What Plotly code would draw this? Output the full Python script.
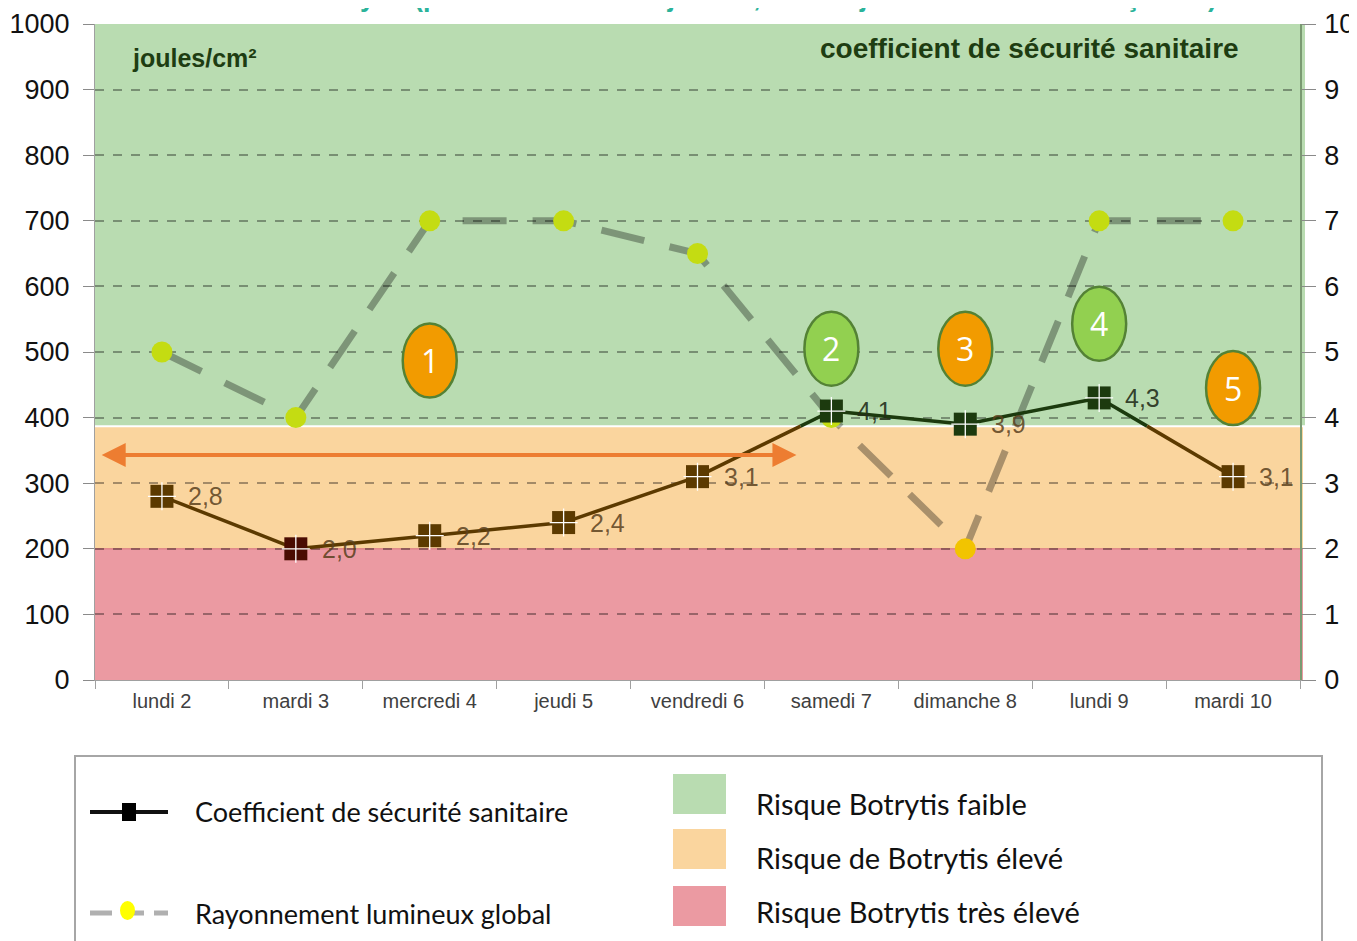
import plotly.graph_objects as go

days = ["lundi 2", "mardi 3", "mercredi 4", "jeudi 5", "vendredi 6",
        "samedi 7", "dimanche 8", "lundi 9", "mardi 10"]
rayonnement = [500, 400, 700, 700, 650, 400, 200, 700, 700]
coefficient = [2.8, 2.0, 2.2, 2.4, 3.1, 4.1, 3.9, 4.3, 3.1]
coef_labels = ["2,8", "2,0", "2,2", "2,4", "3,1", "4,1", "3,9", "4,3", "3,1"]
bubble_nums = ["1", "2", "3", "4", "5"]
bubble_days = [2, 5, 6, 7, 8]
bubble_vals = [487, 505, 505, 543, 445]
bubble_cols = ["#f29b00", "#92d050", "#f29b00", "#92d050", "#f29b00"]
band_low, band_mid, band_top = 200, 387, 1000
legend_lines = ["Coefficient de sécurité sanitaire", "Rayonnement lumineux global"]
legend_risks = ["Risque Botrytis faible", "Risque de Botrytis élevé", "Risque Botrytis très élevé"]
risk_cols = ["#b9dcb1", "#fad59e", "#eb9aa2"]

W, H = 1357, 941
OFF = 8  # page body margin
L, R, T, B = 95, 1300, 24, 680


def px(x):
    return (x - L) / (R - L)


def py(y):
    return (B - y) / (B - T)


THR = band_mid / 100.0
GREEN_DARK = "#1c3a0e"
BROWN = "#5c3a00"
MAROON = "#4a0c02"


def seg_color(v):
    return GREEN_DARK if v >= THR else BROWN


fig = go.Figure()

# background bands
fig.add_shape(type="rect", xref="paper", yref="y", x0=0, x1=px(1305), y0=band_mid, y1=band_top,
              fillcolor=risk_cols[0], line_width=0, layer="below")
fig.add_shape(type="rect", xref="paper", yref="y", x0=0, x1=px(1303), y0=band_low, y1=band_mid,
              fillcolor=risk_cols[1], line_width=0, layer="below")
fig.add_shape(type="rect", xref="paper", yref="y", x0=0, x1=px(1303), y0=0, y1=band_low,
              fillcolor=risk_cols[2], line_width=0, layer="below")
fig.add_shape(type="line", xref="paper", yref="y", x0=0, x1=px(1305), y0=band_mid, y1=band_mid,
              line=dict(color="white", width=2), layer="below")
fig.add_shape(type="line", xref="paper", yref="y", x0=0, x1=px(1303), y0=band_low, y1=band_low,
              line=dict(color="#d87078", width=1), layer="below")

# coefficient line split at the green/orange threshold
xs = list(range(len(days)))
for i in range(len(coefficient) - 1):
    a, b = coefficient[i], coefficient[i + 1]
    if (a - THR) * (b - THR) < 0:
        t = (THR - a) / (b - a)
        xm = xs[i] + t
        fig.add_trace(go.Scatter(x=[xs[i], xm], y=[a, THR], mode="lines", yaxis="y2",
                                 line=dict(color=seg_color(a), width=3.5), showlegend=False, hoverinfo="skip"))
        fig.add_trace(go.Scatter(x=[xm, xs[i + 1]], y=[THR, b], mode="lines", yaxis="y2",
                                 line=dict(color=seg_color(b), width=3.5), showlegend=False, hoverinfo="skip"))
    else:
        fig.add_trace(go.Scatter(x=[xs[i], xs[i + 1]], y=[a, b], mode="lines", yaxis="y2",
                                 line=dict(color=seg_color(a), width=3.5),
                                 showlegend=False, hoverinfo="skip"))

mcols = [MAROON if v <= 2.0 else seg_color(v) for v in coefficient]
tcols = ["rgba(35,45,25,0.9)" if v >= 4.0 else "rgba(90,65,30,0.85)" for v in coefficient]
fig.add_trace(go.Scatter(x=xs, y=coefficient, mode="markers", yaxis="y2",
                         marker=dict(symbol="square", size=23, color=mcols, line=dict(width=0)),
                         showlegend=False))
fig.add_trace(go.Scatter(x=xs, y=coefficient, mode="markers", yaxis="y2",
                         marker=dict(symbol="cross-thin", size=20, line=dict(color="white", width=1.3)),
                         showlegend=False))
for xv, yv, lab, c in zip(xs, coefficient, coef_labels, tcols):
    fig.add_annotation(x=xv, y=yv, xref="x", yref="y2", text=lab, showarrow=False,
                       xanchor="left", yanchor="middle", xshift=24, yshift=0,
                       font=dict(family="Liberation Sans", size=25, color=c))

# rayonnement
fig.add_trace(go.Scatter(x=xs, y=rayonnement, mode="lines", yaxis="y",
                         line=dict(color="rgba(0,0,0,0.32)", width=7, dash="44px,26px"),
                         showlegend=False))
rcols = ["#f2c400" if v <= band_low else "#c4dc12" for v in rayonnement]
fig.add_trace(go.Scatter(x=xs, y=rayonnement, mode="markers", yaxis="y",
                         marker=dict(symbol="circle", size=21, color=rcols, line=dict(width=0)),
                         showlegend=False))

# numbered ellipses
for n, d, v, c in zip(bubble_nums, bubble_days, bubble_vals, bubble_cols):
    fig.add_shape(type="circle", xref="x", yref="y", xsizemode="pixel", ysizemode="pixel",
                  xanchor=d, yanchor=v, x0=-27, x1=27, y0=-37, y1=37,
                  fillcolor=c, line=dict(color="#548235", width=2.5), layer="above")
    fig.add_annotation(x=d, y=v, xref="x", yref="y", text=n, showarrow=False,
                       font=dict(family="Open Sans", size=32, color="white"))

# orange double arrow
fig.add_annotation(x=-0.45, y=343, ax=4.75, ay=343, xref="x", yref="y", axref="x", ayref="y",
                   text="", showarrow=True, arrowhead=2, startarrowhead=2, arrowside="end+start",
                   arrowsize=1.2, arrowwidth=4, arrowcolor="#ed7d31")

# axis titles inside plot
fig.add_annotation(x=px(130), y=py(58), xref="paper", yref="paper", text="<b>joules/cm²</b>",
                   showarrow=False, xanchor="left", yanchor="middle",
                   font=dict(family="Liberation Sans", size=25, color="#1e3d12"))
fig.add_annotation(x=px(1241), y=py(48), xref="paper", yref="paper",
                   text="<b>coefficient de sécurité sanitaire</b>",
                   showarrow=False, xanchor="right", yanchor="middle",
                   font=dict(family="Liberation Sans", size=28, color="#1e3d12"))

# clipped title (only its lower part shows at the top edge)
fig.add_annotation(x=px(710), y=py(-3), xref="paper", yref="paper",
                   text="<b>Modèle Botrytis (période du 2 au 10 janvier, base 9 jours et variétés françaises)</b>",
                   showarrow=False, xanchor="center", yanchor="middle",
                   font=dict(family="Liberation Sans", size=27, color="#2bb39a"))

# legend box
fig.add_shape(type="rect", xref="paper", yref="paper", x0=px(75), x1=px(1322), y0=py(960), y1=py(756),
              line=dict(color="#a6a6a6", width=2), fillcolor="white")
fig.add_shape(type="line", xref="paper", yref="paper", x0=px(90), x1=px(168), y0=py(812), y1=py(812),
              line=dict(color="#111111", width=4))
fig.add_shape(type="rect", xref="paper", yref="paper", x0=px(122), x1=px(136), y0=py(821), y1=py(803),
              line=dict(width=0), fillcolor="#000000")
fig.add_shape(type="line", xref="paper", yref="paper", x0=px(90), x1=px(168), y0=py(913), y1=py(913),
              line=dict(color="#b0b0b0", width=5, dash="22px,10px"))
fig.add_shape(type="circle", xref="paper", yref="paper", x0=px(120), x1=px(135), y0=py(920), y1=py(901),
              line=dict(width=0), fillcolor="#ffff00")
for i, txt in enumerate(legend_lines):
    fig.add_annotation(x=px(193), y=py([811, 913][i]), xref="paper", yref="paper", text=txt,
                       showarrow=False, xanchor="left", yanchor="middle",
                       font=dict(family="Lato", size=27, color="#111111"))
for i, (txt, c) in enumerate(zip(legend_risks, risk_cols)):
    yc = [794, 849, 906][i]
    fig.add_shape(type="rect", xref="paper", yref="paper", x0=px(673), x1=px(726), y0=py(yc + 20), y1=py(yc - 20),
                  line=dict(width=0), fillcolor=c)
    fig.add_annotation(x=px(754), y=py([803, 857, 912][i]), xref="paper", yref="paper", text=txt,
                       showarrow=False, xanchor="left", yanchor="middle",
                       font=dict(family="Lato", size=29, color="#111111"))

fig.update_layout(
    width=W, height=H,
    margin=dict(l=L - OFF, r=W - (R - OFF), t=T - OFF, b=H - (B - OFF), autoexpand=False),
    paper_bgcolor="white", plot_bgcolor="rgba(0,0,0,0)", showlegend=False,
    xaxis=dict(range=[-0.5, 8.5], tickmode="array", tickvals=xs, ticktext=days, ticks="",
               showgrid=False, zeroline=False, showline=True, linecolor="#a0a0a0", linewidth=1,
               ticklabelstandoff=3, automargin=False,
               tickfont=dict(family="Liberation Sans", size=20, color="#404040"),
               minor=dict(tickmode="array", tickvals=[i - 0.5 for i in range(len(days) + 1)],
                          ticks="outside", ticklen=8, tickcolor="#a0a0a0", showgrid=False)),
    yaxis=dict(range=[0, 1000], tickvals=list(range(0, 1001, 100)), ticks="outside", ticklen=11,
               tickcolor="#8a8a8a", showgrid=True, gridcolor="rgba(0,0,0,0.35)", griddash="dash",
               gridwidth=1.5, zeroline=False, showline=True, linecolor="#a0a0a0",
               ticklabelstandoff=8, automargin=False,
               tickfont=dict(family="Liberation Sans", size=27, color="#111111")),
    yaxis2=dict(range=[0, 10], overlaying="y", side="right", tickvals=list(range(0, 11)),
                ticks="outside", ticklen=14, tickcolor="#8a8a8a", showgrid=False, zeroline=False,
                showline=True, linecolor="#7a9a72", linewidth=1.5, ticklabelstandoff=3,
                automargin=False,
                tickfont=dict(family="Liberation Sans", size=27, color="#111111")),
)

fig.write_html("out.html")
